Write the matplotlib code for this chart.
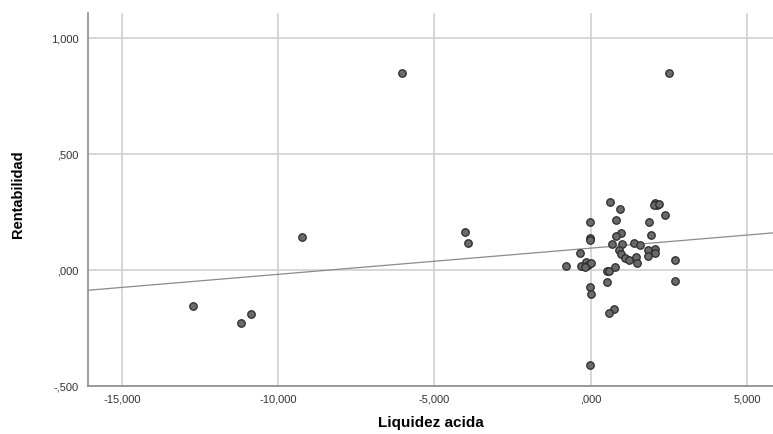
import matplotlib
matplotlib.use("Agg")
import matplotlib.pyplot as plt
import numpy as np

# Data (Liquidez acida vs Rentabilidad)
liquidez = [
    -12736, -11190, -10861, -9248, -6038, -4013, -3917, 2506,
    627, 928, 2058, 2112, 2026, 2176, 2387, -22, 810, 1856,
    -22, -22, 979, 800, 1920, 691, 1011, 1395, 1578, -342,
    915, 979, 1098, 1235, 1440, 1482, 1843, 2058, 2058, 1843,
    2688, -790, -320, -160, -77, 10, -182, 522, 586, 787,
    512, 2688, -32, 0, 736, 586, -22,
]
rentabilidad = [
    -0.155, -0.227, -0.190, 0.145, 0.850, 0.166, 0.118, 0.850,
    0.293, 0.262, 0.291, 0.283, 0.280, 0.286, 0.238, 0.210, 0.218, 0.208,
    0.139, 0.132, 0.161, 0.147, 0.150, 0.113, 0.113, 0.119, 0.108, 0.072,
    0.087, 0.069, 0.052, 0.043, 0.056, 0.029, 0.087, 0.091, 0.075, 0.061,
    0.046, 0.016, 0.017, 0.036, 0.022, 0.032, 0.014, -0.004, -0.002, 0.014,
    -0.049, -0.048, -0.072, -0.101, -0.168, -0.185, -0.411,
]

# Fit line
fit_intercept = 0.095
fit_slope = 1.13e-5

x_ticks = [-15000, -10000, -5000, 0, 5000]
x_ticklabels = ["-15,000", "-10,000", "-5,000", ",000", "5,000"]
y_ticks = [-0.5, 0.0, 0.5, 1.0]
y_ticklabels = ["-,500", ",000", ",500", "1,000"]

plt.rcParams['font.family'] = ['Liberation Sans', 'DejaVu Sans']

fig = plt.figure(figsize=(7.73, 4.34), dpi=100)
ax = fig.add_axes([88/773, 1-386/434, 1-88/773, (386-13)/434])

xmin, xmax = -16081, 5832
ymin, ymax = -0.5, 1.11
ax.set_xlim(xmin, xmax)
ax.set_ylim(ymin, ymax)

ax.set_xticks(x_ticks)
ax.set_xticklabels(x_ticklabels)
ax.set_yticks(y_ticks)
ax.set_yticklabels(y_ticklabels)
ax.tick_params(length=0, labelsize=8, colors='#333333')
ax.tick_params(axis='x', pad=6)
ax.tick_params(axis='y', pad=7)

ax.grid(True, color='#d4d4d4', linewidth=1.3)
ax.set_axisbelow(True)

for s in ['top', 'right']:
    ax.spines[s].set_visible(False)
for s in ['left', 'bottom']:
    ax.spines[s].set_color('#8c8c8c')
    ax.spines[s].set_linewidth(1.2)

xs = np.array([xmin, xmax])
ax.plot(xs, fit_intercept + fit_slope * xs, color='#8a8a8a', linewidth=0.9, zorder=2)

ax.scatter(liquidez, rentabilidad, s=29, facecolor='#6a6a6a', edgecolor='#2b2b2b',
           linewidth=0.9, zorder=3)

ax.set_xlabel("Liquidez acida", fontsize=11, fontweight='bold')
ax.set_ylabel("Rentabilidad", fontsize=10.5, fontweight='bold')
ax.xaxis.set_label_coords(0.5, -(416 - 386) / 373)
ax.yaxis.set_label_coords(-(88 - 25) / 685, 0.513)

fig.savefig("out.png", dpi=100)
